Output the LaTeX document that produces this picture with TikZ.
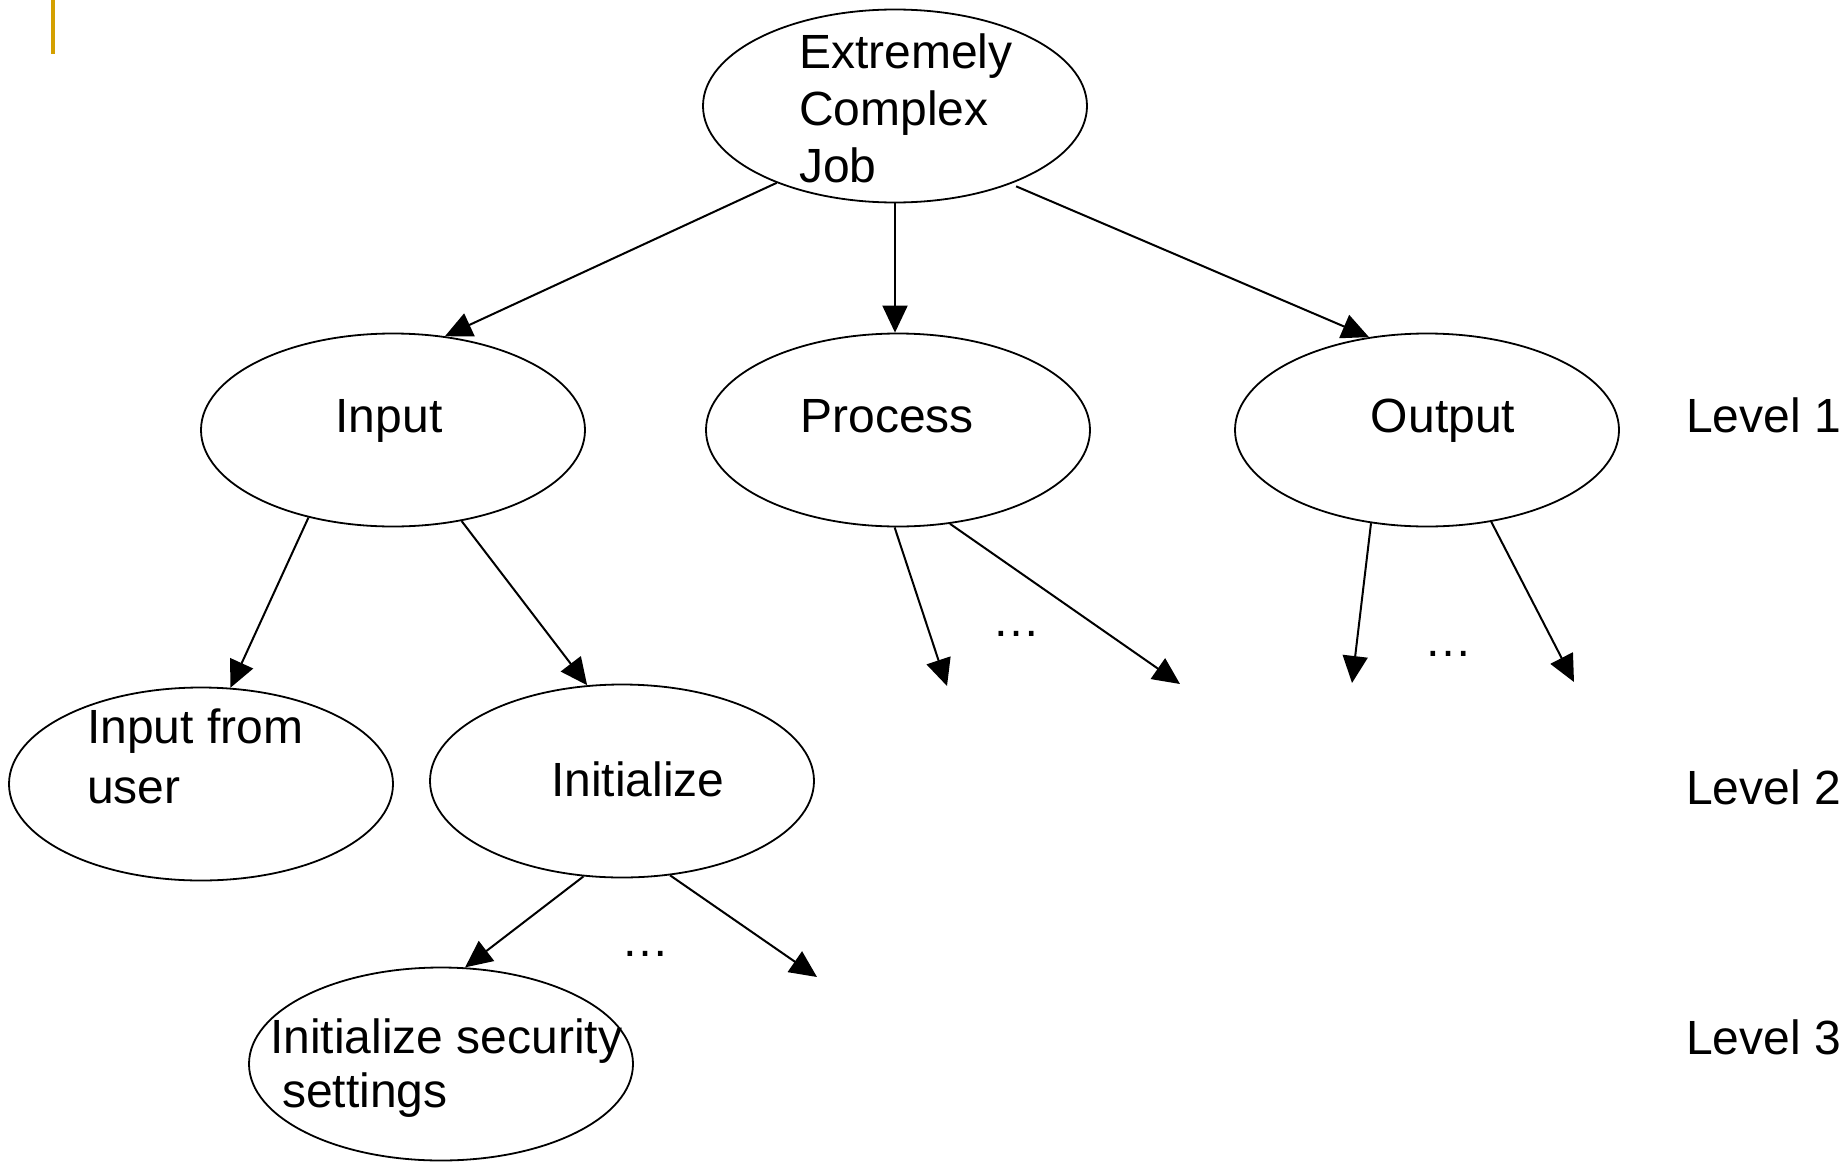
\documentclass[tikz,border=0pt]{standalone}
\usepackage{fontspec}
\setmainfont{Liberation Sans}
\usetikzlibrary{shapes.geometric,arrows.meta}
\definecolor{bargold}{RGB}{212,160,0}
\begin{document}
\begin{tikzpicture}[x=1pt,y=-1pt,
  oval/.style={ellipse,draw,line width=1.8pt,minimum width=384pt,minimum height=193pt,inner sep=0pt},
  txt/.style={inner sep=0pt,font=\fontsize{48}{57}\selectfont},
  arr/.style={line width=2pt,-{Triangle[length=27pt,width=25pt]}}]
\useasboundingbox (0,0) rectangle (1845,1167);
\fill[bargold] (51,0) rectangle (55,54);

% ellipses
\node[oval] (top)  at (895,106) {};
\node[oval] (inp)  at (393,430) {};
\node[oval] (proc) at (898,430) {};
\node[oval] (outp) at (1427,430) {};
\node[oval] (user) at (201,784) {};
\node[oval] (init) at (622,781) {};
\node[oval] (sec)  at (441,1064) {};

% texts
\node[txt,anchor=base west] (t1) at (799,68)  {Extremely};
\node[txt,anchor=base west] (t2) at (799,125) {Complex};
\node[txt,anchor=base west] (t3) at (799,182) {Job};
\node[txt,anchor=base] (tin) at (389,432) {Input};
\node[txt,anchor=base] (tpr) at (887,432) {Process};
\node[txt,anchor=base] (tou) at (1443,432) {Output};
\node[txt,anchor=base west] (tu1) at (87,743) {Input from};
\node[txt,anchor=base west] (tu2) at (87,803) {user};
\node[txt,anchor=base] (tini) at (638,796) {Initialize};
\node[txt,anchor=base west] (ts1) at (270,1053) {Initialize security};
\node[txt,anchor=base west] (ts2) at (282,1107) {settings};
\node[txt,anchor=base west] (l1) at (1686,432) {Level 1};
\node[txt,anchor=base west] (l2) at (1686,804) {Level 2};
\node[txt,anchor=base west] (l3) at (1686,1054) {Level 3};
\node[txt,anchor=base] (d1) at (1016,636) {…};
\node[txt,anchor=base] (d2) at (1448,656) {…};
\node[txt,anchor=base] (d3) at (645,956) {…};

% free ends
\coordinate (pa) at (947,686);
\coordinate (pb) at (1180,684);
\coordinate (oa) at (1352,683);
\coordinate (ob) at (1574,682);
\coordinate (ia) at (817,977);

% connectors
\draw[arr] (top.213.5) -- (inp.61.6);
\draw[arr] (top.south) -- (proc.north -| top.south);
\draw[arr,shorten <=6pt] (top.-34.3) -- (outp.122.2);
\draw[arr] (inp.226.6) -- (user.73.1);
\draw[arr] (inp.-53.5) -- (init.110.5);
\draw[arr] (proc.268) -- (pa);
\draw[arr] (proc.-61.5) -- (pb);
\draw[arr] (outp.239.7) -- (oa);
\draw[arr] (outp.-55.9) -- (ob);
\draw[arr] (init.248.9) -- (sec.76.1);
\draw[arr] (init.-63.4) -- (ia);
\end{tikzpicture}
\end{document}
